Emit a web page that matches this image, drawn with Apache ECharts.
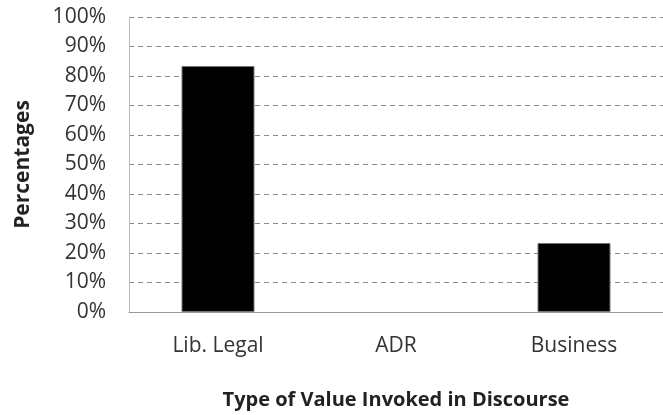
<!DOCTYPE html>
<html>
<head>
<meta charset="utf-8">
<script src="https://cdn.jsdelivr.net/npm/echarts@6/dist/echarts.min.js"></script>
<style>
  html, body { margin: 0; padding: 0; background: #fff; }
  #chart { width: 663px; height: 415px; }
</style>
</head>
<body>
<div id="chart"></div>
<script>
// 分类与数值
const categories = ['Lib. Legal', 'ADR', 'Business']
const percentages = [83.4, 0, 23.4]
const yTicks = [0, 10, 20, 30, 40, 50, 60, 70, 80, 90, 100]

const font = 'Open Sans'

const chart = echarts.init(document.getElementById('chart'))

// 0值的柱子不画边框
const barData = percentages.map(v => v === 0 ? { value: v, itemStyle: { borderWidth: 0 } } : v)

const option = {
  animation: false,
  backgroundColor: '#fff',
  grid: { left: 129, top: 17, width: 540, height: 295 },
  xAxis: {
    type: 'category',
    data: categories,
    name: 'Type of Value Invoked in Discourse',
    nameLocation: 'middle',
    nameGap: 78,
    nameTextStyle: { fontFamily: font, fontWeight: 'bold', fontSize: 20, color: '#222' },
    axisLine: { lineStyle: { color: '#999', width: 1 } },
    axisTick: { show: false },
    axisLabel: { fontFamily: font, fontSize: 21, color: '#333', margin: 24 }
  },
  yAxis: {
    type: 'value',
    min: yTicks[0],
    max: yTicks[yTicks.length - 1],
    interval: 10,
    name: 'Percentages',
    nameLocation: 'middle',
    nameGap: 95,
    nameTextStyle: { fontFamily: font, fontWeight: 'bold', fontSize: 21, color: '#222' },
    axisLine: { show: true, lineStyle: { color: '#bbb', width: 1 } },
    axisTick: { show: false },
    axisLabel: { fontFamily: font, fontSize: 21, color: '#333', margin: 23, formatter: '{value}%' },
    splitLine: { lineStyle: { color: '#888', type: [5, 4], width: 1 } }
  },
  series: [{
    type: 'bar',
    data: barData,
    barWidth: 73,
    itemStyle: { color: '#000', borderColor: '#777', borderWidth: 1 }
  }]
}

chart.setOption(option)
</script>
</body>
</html>
